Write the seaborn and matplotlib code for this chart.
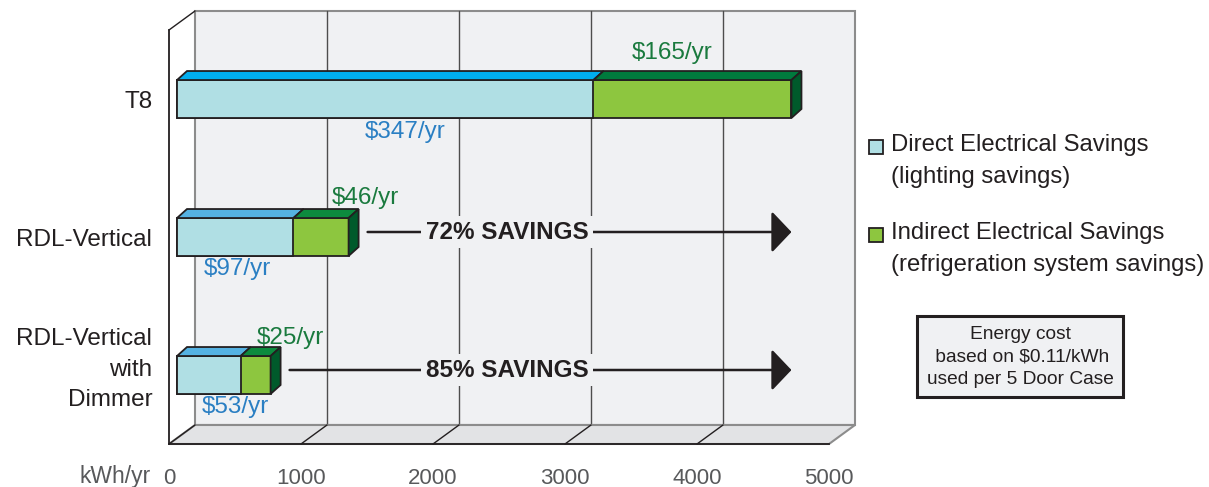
import matplotlib
matplotlib.use("Agg")
import matplotlib.pyplot as plt
import matplotlib.transforms as mtransforms
from matplotlib.patches import Polygon, Rectangle
import pandas as pd
import seaborn as sns

# data (kWh/yr saved per 5 door case)
categories = ["T8", "RDL-Vertical", "RDL-Vertical\nwith\nDimmer"]
direct_kwh = [3155, 882, 482]
indirect_kwh = [1500, 418, 227]
direct_cost = ["$347/yr", "$97/yr", "$53/yr"]
indirect_cost = ["$165/yr", "$46/yr", "$25/yr"]
x_ticks = [0, 1000, 2000, 3000, 4000, 5000]

# colours
front_blue = "#b0dfe4"
top_blue = ["#00aeef", "#55b2e2", "#55b2e2"]
front_green = "#8dc63f"
top_green = ["#007a3d", "#0d8a3e", "#0d8a3e"]
side_green = "#005a2b"
edge = "#231f20"
wall = "#f0f1f3"
floor = "#e2e3e5"
frame = "#8c8c8c"
blue_txt = "#2a7fc3"
green_txt = "#1a7a3e"
tick_txt = "#58595b"

sns.set_style("white")
plt.rcParams["font.family"] = ["Liberation Sans", "DejaVu Sans"]

df = pd.DataFrame({"category": categories,
                   "direct": direct_kwh,
                   "total": [d + i for d, i in zip(direct_kwh, indirect_kwh)]})

fig = plt.figure(figsize=(12.09, 4.87), dpi=100)
W, H = 1209, 487
ax = fig.add_axes([169 / W, 43 / H, 660 / W, 414 / H])
ax.set_xlim(0, 5000)
ax.set_ylim(2.5, -0.5)


def px(dx, dy):
    # pixel offset (right, up) -> data offset
    x0, y0 = ax.transData.transform((0, 0))
    return ax.transData.inverted().transform((x0 + dx, y0 + dy))


def shifted(dx, dy=0):
    return mtransforms.offset_copy(ax.transData, fig=fig, x=dx, y=dy, units="dots")


back_tr = shifted(26, 19)
bar_tr = shifted(8)
fdx, fdy = px(26, 19)

# back wall + gridlines
ax.add_patch(Rectangle((0, -0.5), 5000, 3, transform=back_tr, facecolor=wall,
                       edgecolor=frame, lw=1.5, zorder=0, clip_on=False))
for t in x_ticks[1:-1]:
    ax.plot([t, t], [-0.5, 2.5], transform=back_tr, color="#4d4d4d", lw=1,
            zorder=0.5, clip_on=False)

# floor
ax.add_patch(Polygon([(0, 2.5), (5000, 2.5), (5000 + fdx, 2.5 + fdy), (fdx, 2.5 + fdy)],
                     closed=True, facecolor=floor, edgecolor=frame, lw=1.5,
                     zorder=0.6, clip_on=False))
for t in x_ticks[:-1]:
    ax.plot([t, t + fdx], [2.5, 2.5 + fdy], color=edge, lw=1, zorder=0.7, clip_on=False)
ax.plot([0, fdx], [-0.5, -0.5 + fdy], color=edge, lw=1, zorder=0.7, clip_on=False)

# front faces of the bars
sns.barplot(data=df, x="total", y="category", orient="h", color=front_green,
            saturation=1, width=0.275, edgecolor=edge, linewidth=1.3, ax=ax, zorder=3)
sns.barplot(data=df, x="direct", y="category", orient="h", color=front_blue,
            saturation=1, width=0.275, edgecolor=edge, linewidth=1.3, ax=ax, zorder=3)
ax.set_xlim(0, 5000)
ax.set_ylim(2.5, -0.5)

green_bars = ax.patches[-6:-3]
blue_bars = ax.patches[-3:]
ddx, ddy = px(10, 9)
for i in range(3):
    g, b = green_bars[i], blue_bars[i]
    g.set_transform(bar_tr)
    b.set_transform(bar_tr)
    yt = g.get_y()
    yb = yt + g.get_height()
    xd = b.get_width()
    xt = g.get_width()
    ax.add_patch(Polygon([(0, yt), (xd, yt), (xd + ddx, yt + ddy), (ddx, yt + ddy)],
                         transform=bar_tr, facecolor=top_blue[i], edgecolor=edge, lw=1.3, zorder=3))
    ax.add_patch(Polygon([(xd, yt), (xt, yt), (xt + ddx, yt + ddy), (xd + ddx, yt + ddy)],
                         transform=bar_tr, facecolor=top_green[i], edgecolor=edge, lw=1.3, zorder=3))
    ax.add_patch(Polygon([(xt, yt), (xt + ddx, yt + ddy), (xt + ddx, yb + ddy), (xt, yb)],
                         transform=bar_tr, facecolor=side_green, edgecolor=edge, lw=1.3, zorder=3))

# cost labels
blue_pos = [(1790, 0.24), (520, 1.23), (500, 2.23)]
green_pos = [(3810, -0.33), (1490, 0.72), (920, 1.73)]
for i in range(3):
    ax.text(*blue_pos[i], direct_cost[i], color=blue_txt, fontsize=17.5,
            ha="center", va="center", zorder=4)
    ax.text(*green_pos[i], indirect_cost[i], color=green_txt, fontsize=17.5,
            ha="center", va="center", zorder=4)

# savings arrows
base = df["total"][0]
start_dx = px(19, 0)[0]
up = px(0, 5)[1]
for i in (1, 2):
    tot = df["total"][i]
    y = i + up
    ax.annotate("", xy=(base, y), xytext=(tot + start_dx, y),
                xycoords=bar_tr, textcoords=bar_tr,
                arrowprops=dict(arrowstyle="-|>,head_length=0.95,head_width=1.0",
                                mutation_scale=13, lw=1.8, color=edge,
                                shrinkA=0, shrinkB=0), zorder=4)
    pct = round(100 * (1 - tot / base))
    ax.text(2560, y, f"{pct}% SAVINGS", fontsize=17.5, fontweight="bold", color=edge,
            ha="center", va="center", zorder=5,
            bbox=dict(boxstyle="square,pad=0.2", facecolor=wall, edgecolor="none"))

# axes
sns.despine(ax=ax, top=True, right=True)
for s in ("left", "bottom"):
    ax.spines[s].set_color(edge)
    ax.spines[s].set_linewidth(1.3)
ax.spines["left"].set_zorder(1)
ax.set_xticks(x_ticks)
ax.set_xticklabels([str(t) for t in x_ticks])
ax.tick_params(axis="x", direction="out", length=8, width=1, color=edge,
               labelcolor=tick_txt, labelsize=16, pad=9)
ax.set_yticks(range(3))
ax.set_yticklabels(categories)
ax.set_yticks([-0.5, 0.5, 1.5, 2.5], minor=True)
ax.tick_params(axis="y", which="major", length=0, labelsize=17.5, labelcolor=edge, pad=12)
ax.tick_params(axis="y", which="minor", length=6, width=1, color=edge)
lab3 = ax.get_yticklabels()[2]
lab3.set_linespacing(1.5)
lab3.set_transform(lab3.get_transform() +
                   mtransforms.ScaledTranslation(0, 12 / 100, fig.dpi_scale_trans))
ax.set_xlabel("")
ax.set_ylabel("")
fig.text(115 / W, 1 - 476 / H, "kWh/yr", fontsize=16.5, color=tick_txt, ha="center", va="center")

# legend
for yy, col, lab in [(147, front_blue, "Direct Electrical Savings\n(lighting savings)"),
                     (235, front_green, "Indirect Electrical Savings\n(refrigeration system savings)")]:
    fig.patches.append(Rectangle((869 / W, 1 - (yy + 7) / H), 14 / W, 14 / H,
                                 transform=fig.transFigure, facecolor=col,
                                 edgecolor=edge, lw=1.3))
    fig.text(891 / W, 1 - (yy - 13) / H, lab, fontsize=17.2, color=edge,
             ha="left", va="top", linespacing=1.6)

# note box
fig.patches.append(Rectangle((917 / W, 1 - 397 / H), 206 / W, 81 / H,
                             transform=fig.transFigure, facecolor=wall,
                             edgecolor=edge, lw=2.2))
fig.text(1020 / W, 1 - 357 / H, "Energy cost\n based on $0.11/kWh\nused per 5 Door Case",
         fontsize=13.8, color=edge, ha="center", va="center", linespacing=1.4)

fig.savefig("out.png", dpi=100)
